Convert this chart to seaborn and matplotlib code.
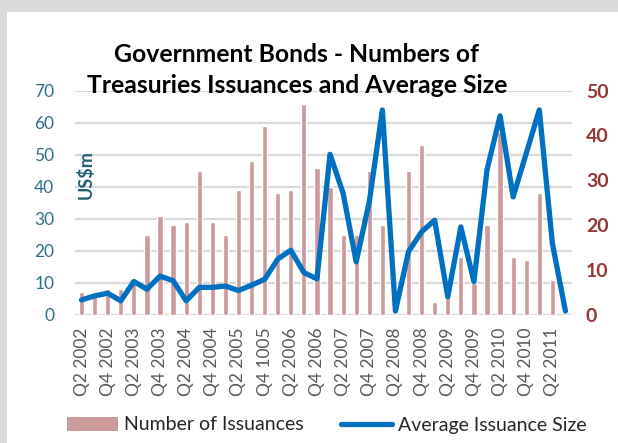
import matplotlib
matplotlib.use("Agg")
import matplotlib.pyplot as plt
import seaborn as sns
import numpy as np
import pandas as pd
from matplotlib.patches import Rectangle, Patch
from matplotlib.lines import Line2D

quarters = ["Q2 2002", "Q3 2002", "Q4 2002", "Q1 2003", "Q2 2003", "Q3 2003", "Q4 2003", "Q1 2004",
            "Q2 2004", "Q3 2004", "Q4 2004", "Q1 2005", "Q2 2005", "Q3 2005", "Q4 2005", "Q1 2006",
            "Q2 2006", "Q3 2006", "Q4 2006", "Q1 2007", "Q2 2007", "Q3 2007", "Q4 2007", "Q1 2008",
            "Q2 2008", "Q3 2008", "Q4 2008", "Q1 2009", "Q2 2009", "Q3 2009", "Q4 2009", "Q1 2010",
            "Q2 2010", "Q3 2010", "Q4 2010", "Q1 2011", "Q2 2011", "Q3 2011"]
num_issuances = [7, 6, 8, 8, 11, 25, 31, 28, 29, 45, 29, 25, 39, 48, 59, 38, 39, 66, 46, 40,
                 25, 25, 45, 28, 0, 45, 53, 4, 8, 18, 10, 28, 57, 18, 17, 38, 11, 0]
avg_size = [3.3, 4.2, 4.8, 3.1, 7.4, 5.7, 8.6, 7.6, 3.1, 6.1, 6.1, 6.4, 5.4, 6.6, 7.9, 12.4, 14.4,
            9.4, 8.0, 35.8, 27.1, 11.8, 25.2, 45.7, 0.8, 14.1, 18.5, 21.1, 4.0, 19.6, 7.4, 32.3,
            44.4, 26.3, 36.0, 45.7, 15.9, 0.8]
tick_labels = ["Q2 2002", "Q4 2002", "Q2 2003", "Q4 2003", "Q2 2004", "Q4 2004", "Q2 2005",
               "Q4 1005", "Q2 2006", "Q4 2006", "Q2 2007", "Q4 2007", "Q2 2008", "Q4 2008",
               "Q2 2009", "Q4 2009", "Q2 2010", "Q4 2010", "Q2 2011"]
left_ticks = [0, 10, 20, 30, 40, 50, 60, 70]
right_ticks = [0, 10, 20, 30, 40, 50]

BAR_C = "#cc9a9a"
LINE_C = "#0070c0"
LEFT_C = "#2f6f86"
RIGHT_C = "#953735"
GRID_C = "#d9d9d9"

sns.set_theme(style="white")
plt.rcParams['font.family'] = ['Lato', 'DejaVu Sans']

W, H = 618, 443
fig = plt.figure(figsize=(W / 100, H / 100), dpi=100)
fig.patch.set_facecolor("#d9d9d9")
fig.add_artist(Rectangle((7 / W, 0), 1, (H - 12) / H, transform=fig.transFigure,
                         facecolor="white", edgecolor="none", zorder=-10))

x0, x1, ytop, ybot = 75, 572, 90.7, 314.7
ax = fig.add_axes([x0 / W, 1 - ybot / H, (x1 - x0) / W, (ybot - ytop) / H])
ax.set_facecolor("none")

df = pd.DataFrame({"Quarter": quarters, "Issuances": num_issuances, "AvgSize": avg_size})
sns.barplot(data=df, x="Quarter", y="Issuances", color=BAR_C, saturation=1, width=0.4,
            ax=ax, zorder=2)
ax.set_xlim(-0.5, len(quarters) - 0.5)
ax.set_ylim(0, 70)
ax.set_yticks(left_ticks)
ax.set_yticklabels([str(t) for t in left_ticks], color=LEFT_C, fontsize=12.5)
ax.set_xticks(np.arange(0, len(quarters), 2))
ax.set_xticklabels(tick_labels, rotation=90, color="#595959", fontsize=12.5)
ax.set_xlabel("")
ax.set_ylabel("")
ax.yaxis.grid(True, color=GRID_C, lw=1.6, zorder=0)
ax.set_axisbelow(True)
for s in ax.spines.values():
    s.set_visible(False)
ax.tick_params(axis="both", length=0)
ax.tick_params(axis="y", pad=15)
ax.tick_params(axis="x", pad=9)
ax.text(0.021, 0.624, "US$m", transform=ax.transAxes, rotation=90, ha="center", va="center",
        fontsize=13, fontweight="bold", color="#215f73")

ax2 = ax.twinx()
sns.lineplot(x=np.arange(len(avg_size)), y=avg_size, ax=ax2, color=LINE_C, lw=3.8,
             solid_joinstyle="round", solid_capstyle="round")
ax2.set_ylim(0, 50)
ax2.set_yticks(right_ticks)
ax2.set_yticklabels([str(t) for t in right_ticks], color=RIGHT_C, fontsize=14, fontweight="bold")
for s in ax2.spines.values():
    s.set_visible(False)
ax2.tick_params(axis="y", length=0, pad=10)
ax2.grid(False)

fig.text(297 / W, 1 - 62 / H, "Government Bonds - Numbers of", ha="center", va="baseline",
         fontsize=17.8, fontweight="bold", color="black")
fig.text(297 / W, 1 - 93 / H, "Treasuries Issuances and Average Size", ha="center", va="baseline",
         fontsize=17.8, fontweight="bold", color="black")

handles = [Patch(facecolor=BAR_C, edgecolor="none"), Line2D([], [], color=LINE_C, lw=3.8)]
fig.legend(handles, ["Number of Issuances", "Average Issuance Size"], loc="center",
           bbox_to_anchor=(327 / W, 1 - 425 / H), ncol=2, frameon=False, fontsize=14,
           handlelength=2.6, handleheight=0.7, handletextpad=0.35, columnspacing=1.9)

fig.savefig("out.png", dpi=100, facecolor=fig.get_facecolor())
